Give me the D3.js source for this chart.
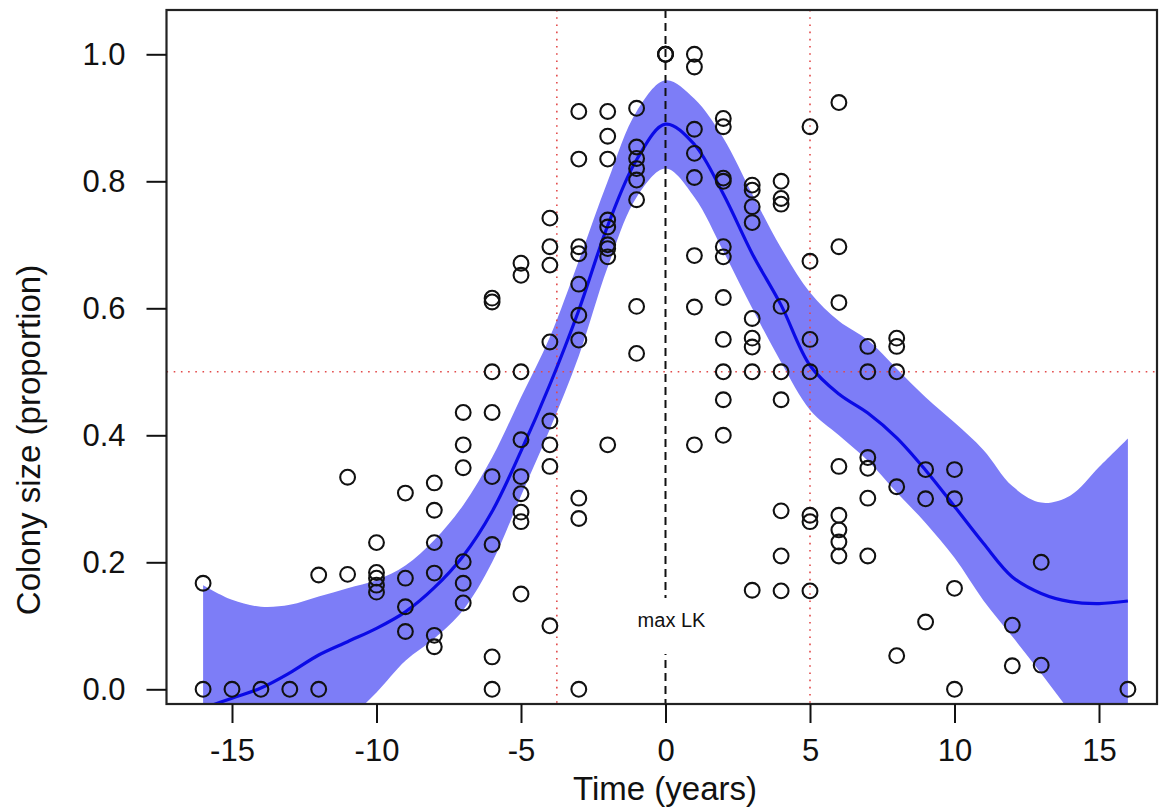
<!DOCTYPE html>
<html>
<head>
<meta charset="utf-8">
<script src="https://cdn.jsdelivr.net/npm/d3@7/dist/d3.min.js"></script>
<style>
  html, body { margin: 0; padding: 0; background: #fff; }
  svg { display: block; }
  text { font-family: "Liberation Sans", Arial, Helvetica, sans-serif; fill: #111; }
</style>
</head>
<body>
<div id="chart"></div>
<script>
// ---- Data ----
const obsYears = [-16,-15,-14,-13,-12,-11,-10,-9,-8,-7,-6,-5,-4,-3,-2,-1,0,1,2,3,4,5,6,7,8,9,10,12,13,16];
const obsSizes = [
  [0.167, 0],
  [0],
  [0],
  [0],
  [0.18, 0],
  [0.334, 0.181],
  [0.231, 0.184, 0.175, 0.164, 0.153],
  [0.309, 0.175, 0.13, 0.091],
  [0.325, 0.282, 0.231, 0.183, 0.085, 0.067],
  [0.436, 0.385, 0.349, 0.201, 0.167, 0.136],
  [0.616, 0.61, 0.5, 0.436, 0.335, 0.228, 0.051, 0],
  [0.671, 0.652, 0.5, 0.393, 0.335, 0.308, 0.279, 0.264, 0.15],
  [0.742, 0.697, 0.668, 0.547, 0.4225, 0.385, 0.351, 0.1],
  [0.91, 0.835, 0.697, 0.686, 0.638, 0.589, 0.55, 0.301, 0.269, 0],
  [0.91, 0.871, 0.835, 0.739, 0.728, 0.70, 0.694, 0.681, 0.385],
  [0.915, 0.854, 0.836, 0.82, 0.802, 0.771, 0.603, 0.529],
  [1, 1, 1],
  [1, 0.98, 0.882, 0.844, 0.806, 0.683, 0.602, 0.385],
  [0.899, 0.886, 0.805, 0.8, 0.697, 0.681, 0.617, 0.551, 0.5, 0.456, 0.4],
  [0.794, 0.786, 0.76, 0.735, 0.584, 0.553, 0.539, 0.5, 0.156],
  [0.8, 0.773, 0.764, 0.603, 0.5, 0.456, 0.281, 0.21, 0.155],
  [0.886, 0.674, 0.551, 0.5, 0.274, 0.264, 0.155],
  [0.924, 0.697, 0.609, 0.351, 0.274, 0.251, 0.232, 0.21],
  [0.54, 0.5, 0.365, 0.348, 0.301, 0.21],
  [0.553, 0.54, 0.5, 0.319, 0.053],
  [0.346, 0.3, 0.106],
  [0.346, 0.3, 0.159, 0],
  [0.101, 0.037],
  [0.2, 0.038],
  [0]
];

const fitYears = d3.range(-16, 17);
const fitMean  = [-0.03,-0.014,0.002,0.026,0.054,0.075,0.096,0.122,0.16,0.21,0.28,0.375,0.48,0.597,0.73,0.834,0.89,
                  0.858,0.78,0.686,0.605,0.51,0.465,0.435,0.396,0.345,0.288,0.23,0.177,0.151,0.138,0.135,0.139];
const fitUpper = [0.164,0.141,0.13,0.133,0.146,0.159,0.172,0.195,0.235,0.29,0.365,0.46,0.555,0.675,0.8,0.91,0.959,
                  0.93,0.868,0.78,0.695,0.625,0.58,0.55,0.505,0.46,0.42,0.377,0.32,0.294,0.305,0.35,0.395];
const fitLower = [-0.23,-0.2,-0.17,-0.14,-0.1,-0.05,-0.005,0.045,0.08,0.125,0.2,0.305,0.41,0.525,0.665,0.775,0.82,
                  0.775,0.69,0.6,0.515,0.44,0.4,0.36,0.31,0.262,0.207,0.14,0.083,0.025,-0.035,-0.09,-0.14];

const xTicks = [-15, -10, -5, 0, 5, 10, 15];
const yTicks = [0, 0.2, 0.4, 0.6, 0.8, 1.0];
const refYears = [-3.76, 5];   // red dotted vertical lines
const refSize = 0.5;           // red dotted horizontal line
const peakYear = 0;            // black dashed line
const peakLabel = "max LK";
const xTitle = "Time (years)";
const yTitle = "Colony size (proportion)";

// ---- Layout ----
const W = 1161, H = 812;
const box = {left: 166.5, right: 1157, top: 10, bottom: 704};

const x = d3.scaleLinear().domain([-15, 15]).range([232, 1099]);
const y = d3.scaleLinear().domain([0, 1]).range([689.3, 54.3]);

const svg = d3.select("#chart").append("svg").attr("width", W).attr("height", H);

svg.append("defs").append("clipPath").attr("id", "plotclip")
  .append("rect").attr("x", box.left).attr("y", box.top)
  .attr("width", box.right - box.left).attr("height", box.bottom - box.top);

const plot = svg.append("g").attr("clip-path", "url(#plotclip)");

const fit = fitYears.map((t, i) => ({t, m: fitMean[i], lo: fitLower[i], hi: fitUpper[i]}));

// confidence band
plot.append("path")
  .datum(fit)
  .attr("d", d3.area().x(d => x(d.t)).y0(d => y(d.lo)).y1(d => y(d.hi)).curve(d3.curveCatmullRom.alpha(0.5)))
  .attr("fill", "#7d7df7").attr("stroke", "none");

// red dotted reference lines
plot.selectAll("line.refv").data(refYears).enter().append("line")
  .attr("x1", d => x(d)).attr("x2", d => x(d))
  .attr("y1", box.top).attr("y2", box.bottom)
  .attr("stroke", "#e24a4a").attr("stroke-width", 1.6).attr("stroke-dasharray", "1.6,5.6");
plot.append("line")
  .attr("x1", box.left).attr("x2", box.right)
  .attr("y1", y(refSize)).attr("y2", y(refSize))
  .attr("stroke", "#e24a4a").attr("stroke-width", 1.6).attr("stroke-dasharray", "1.6,5.6");

// black dashed line at peak
plot.append("line")
  .attr("x1", x(peakYear)).attr("x2", x(peakYear))
  .attr("y1", box.top).attr("y2", box.bottom)
  .attr("stroke", "#111").attr("stroke-width", 2).attr("stroke-dasharray", "8,5");

// fitted line
plot.append("path")
  .datum(fit)
  .attr("d", d3.line().x(d => x(d.t)).y(d => y(d.m)).curve(d3.curveCatmullRom.alpha(0.5)))
  .attr("fill", "none").attr("stroke", "#0a0ae6").attr("stroke-width", 3.2);

// observations
const pts = [];
obsYears.forEach((t, i) => obsSizes[i].forEach(v => pts.push({t, v})));
svg.append("g").selectAll("circle").data(pts).enter().append("circle")
  .attr("cx", d => x(d.t)).attr("cy", d => y(d.v)).attr("r", 7.4)
  .attr("fill", "none").attr("stroke", "#111").attr("stroke-width", 2.1);

// label with white background interrupting dashed line
svg.append("rect").attr("x", x(peakYear) - 22).attr("y", 598).attr("width", 44).attr("height", 56).attr("fill", "#fff");
svg.append("text").attr("x", x(peakYear) + 6).attr("y", 627)
  .attr("text-anchor", "middle").attr("font-size", 20).text(peakLabel);

// plot box
svg.append("rect")
  .attr("x", box.left).attr("y", box.top)
  .attr("width", box.right - box.left).attr("height", box.bottom - box.top)
  .attr("fill", "none").attr("stroke", "#222").attr("stroke-width", 2.2);

// axes
const xAxis = svg.append("g").attr("transform", `translate(0,${box.bottom})`)
  .call(d3.axisBottom(x).tickValues(xTicks).tickSize(19).tickPadding(16).tickFormat(d => String(d)));
xAxis.select(".domain").remove();
xAxis.selectAll(".tick line").attr("stroke", "#111").attr("stroke-width", 2);
xAxis.selectAll(".tick text").attr("font-size", 31).attr("font-family", "Liberation Sans, Arial, sans-serif").attr("fill", "#111");

const yAxis = svg.append("g").attr("transform", `translate(${box.left},0)`)
  .call(d3.axisLeft(y).tickValues(yTicks).tickSize(20).tickPadding(21).tickFormat(d3.format(".1f")));
yAxis.select(".domain").remove();
yAxis.selectAll(".tick line").attr("stroke", "#111").attr("stroke-width", 2);
yAxis.selectAll(".tick text").attr("font-size", 31).attr("font-family", "Liberation Sans, Arial, sans-serif").attr("fill", "#111");

// titles
svg.append("text").attr("x", 665).attr("y", 800).attr("text-anchor", "middle")
  .attr("font-size", 33).text(xTitle);
svg.append("text").attr("transform", "translate(40,440) rotate(-90)").attr("text-anchor", "middle")
  .attr("font-size", 33).text(yTitle);
</script>
</body>
</html>
